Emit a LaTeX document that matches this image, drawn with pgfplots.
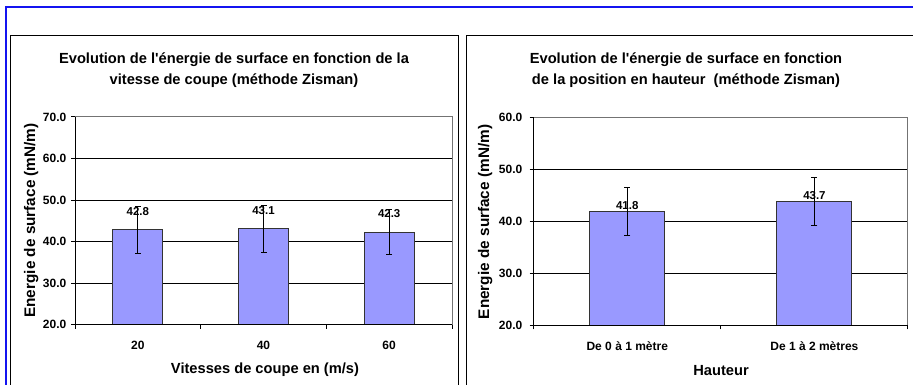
\documentclass[border=0pt]{standalone}
\usepackage{fontspec}
\setmainfont{Liberation Sans}[Ligatures=TeXOff]
\usepackage{pgfplots}
\pgfplotsset{compat=1.18}
\definecolor{barblue}{RGB}{153,153,255}
\definecolor{frameblue}{RGB}{20,20,240}

\pgfplotsset{
  chart/.style={
    anchor=south west, scale only axis,
    ymin=20,
    xmin=0.5,
    tick pos=left, tick align=outside,
    major tick length=3pt, minor tick length=3pt,
    major x tick style={draw=none},
    minor x tick style={black, line width=0.75pt},
    major y tick style={black, line width=0.75pt},
    ymajorgrids, grid style={black, line width=0.75pt},
    axis line style={draw=none},
    clip mode=individual,
    /pgf/number format/assume math mode=true,
    y tick label style={/pgf/number format/fixed, /pgf/number format/fixed zerofill, /pgf/number format/precision=1},
    x tick label style={yshift=-6pt},
    tick label style={font=\bfseries\fontsize{9}{10}\selectfont},
    ybar,
    nodes near coords={\pgfmathprintnumber[fixed,fixed zerofill,precision=1]{\pgfplotspointmeta}},
    every node near coord/.append style={font=\bfseries\fontsize{8.6}{10}\selectfont, black},
  },
  bars/.style={fill=barblue, draw=black!80, line width=0.75pt,
    error bars/.cd, y dir=both, y explicit,
    error bar style={black, line width=0.75pt},
    error mark options={rotate=90, black, line width=0.75pt, mark size=2.25pt}},
}

\begin{document}
\begin{tikzpicture}[x=0.75pt, y=-0.75pt]
\useasboundingbox (0,0) rectangle (913,385);
\fill[white] (0,0) rectangle (913,385);
\draw[frameblue, line width=1.5pt] (5.5,400) -- (5.5,7.5) -- (930,7.5);
\draw[black, line width=0.75pt] (10,400) -- (10,36) -- (458,36) -- (458,400);
\draw[black, line width=0.75pt] (466,400) -- (466,36) -- (930,36);

\coordinate (LA) at (75,324.7);
\coordinate (RA) at (533.7,325.3);

% left chart: cutting speed
\begin{axis}[chart, at={(LA)},
  width=282.75pt, height=155.8pt,
  ymax=70, ytick={20,30,...,70},
  xmax=3.5, xtick={1,2,3}, xticklabels={20,40,60},
  minor xtick={0.5,1.5,2.5,3.5},
  bar width=37.5pt,
  every node near coord/.append style={yshift=7pt},
]
\addplot[bars] coordinates {(1,42.8) +- (0,5.7) (2,43.1) +- (0,5.7) (3,42.3) +- (0,5.5)};
\draw[black!55, line width=0.75pt] (rel axis cs:0,1) -- (rel axis cs:1,1) -- (rel axis cs:1,0);
\draw[black, line width=0.75pt] (rel axis cs:0,1) -- (rel axis cs:0,0) -- (rel axis cs:1,0);
\end{axis}

% right chart: height position
\begin{axis}[chart, at={(RA)},
  width=280.7pt, height=156.2pt,
  ymax=60, ytick={20,30,...,60},
  xmax=2.5, xtick={1,2}, xticklabels={De 0 à 1 mètre, De 1 à 2 mètres},
  minor xtick={0.5,1.5,2.5},
  bar width=56.25pt,
  y tick label style={xshift=-2pt},
  every node near coord/.append style={yshift=-2pt},
]
\addplot[bars] coordinates {(1,41.8) +- (0,4.6) (2,43.7) +- (0,4.6)};
\draw[black!55, line width=0.75pt] (rel axis cs:0,1) -- (rel axis cs:1,1) -- (rel axis cs:1,0);
\draw[black, line width=0.75pt] (rel axis cs:0,1) -- (rel axis cs:0,0) -- (rel axis cs:1,0);
\end{axis}

\node[align=center, font=\bfseries\fontsize{11}{15.75}\selectfont] at (234,70.5)
  {Evolution de l'énergie de surface en fonction de la\\vitesse de coupe (méthode Zisman)};
\node[align=center, font=\bfseries\fontsize{11}{15.75}\selectfont] at (686,70)
  {Evolution de l'énergie de surface en fonction\\de la position en hauteur~ (méthode Zisman)};

\node[rotate=90, font=\bfseries\fontsize{11.5}{13}\selectfont] at (31.3,220.5) {Energie de surface (mN/m)};
\node[rotate=90, font=\bfseries\fontsize{11.5}{13}\selectfont] at (485.3,222) {Energie de surface (mN/m)};
\node[font=\bfseries\fontsize{11}{13}\selectfont] at (265,369.3) {Vitesses de coupe en (m/s)};
\node[font=\bfseries\fontsize{11}{13}\selectfont] at (721,371) {Hauteur};
\end{tikzpicture}
\end{document}
